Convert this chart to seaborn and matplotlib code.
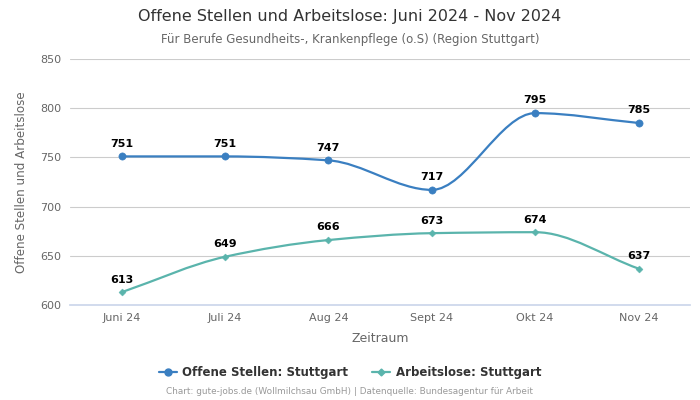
import numpy as np
import pandas as pd
import matplotlib
matplotlib.use('Agg')
import matplotlib.pyplot as plt
import seaborn as sns
from matplotlib.path import Path
from matplotlib.patches import PathPatch
from matplotlib.lines import Line2D

months = ['Juni 24', 'Juli 24', 'Aug 24', 'Sept 24', 'Okt 24', 'Nov 24']
offene_stellen = [751, 751, 747, 717, 795, 785]
arbeitslose = [613, 649, 666, 673, 674, 637]

blue = '#3a7fc1'
teal = '#5ab4ac'

sns.set_theme(style='white')
plt.rcParams['font.family'] = ['DejaVu Sans']

df = pd.DataFrame({
    'Monat': months * 2,
    'pos': list(range(len(months))) * 2,
    'Wert': offene_stellen + arbeitslose,
    'Reihe': ['Offene Stellen: Stuttgart'] * len(months) + ['Arbeitslose: Stuttgart'] * len(months),
})


def monotone_path(xs, ys):
    # Fritsch-Carlson tangents, drawn as cubic bezier segments
    xs = np.asarray(xs, float)
    ys = np.asarray(ys, float)
    h = np.diff(xs)
    d = np.diff(ys) / h
    m = np.zeros(len(xs))
    m[0], m[-1] = d[0], d[-1]
    for i in range(1, len(xs) - 1):
        if d[i - 1] * d[i] <= 0:
            m[i] = 0
        else:
            m[i] = 2 / (1 / d[i - 1] + 1 / d[i])
    verts = [(xs[0], ys[0])]
    codes = [Path.MOVETO]
    for i in range(len(xs) - 1):
        verts += [(xs[i] + h[i] / 3, ys[i] + m[i] * h[i] / 3),
                  (xs[i + 1] - h[i] / 3, ys[i + 1] - m[i + 1] * h[i] / 3),
                  (xs[i + 1], ys[i + 1])]
        codes += [Path.CURVE4] * 3
    return Path(verts, codes)


fig = plt.figure(figsize=(7, 4), dpi=100)
ax = fig.add_axes([0.1, 0.2375, 0.886, 0.615])

series = [('Offene Stellen: Stuttgart', offene_stellen, blue, 'o', 5.2),
          ('Arbeitslose: Stuttgart', arbeitslose, teal, 'D', 3.6)]

for name, vals, color, marker, ms in series:
    x = list(range(len(vals)))
    ax.add_patch(PathPatch(monotone_path(x, vals), facecolor='none',
                           edgecolor=color, lw=1.6, zorder=3))
    sub = df[df['Reihe'] == name]
    sns.scatterplot(data=sub, x='pos', y='Wert', marker=marker, s=ms ** 2,
                    color=color, edgecolor=color, ax=ax, zorder=4, legend=False)
    for xi, v in zip(x, vals):
        ax.annotate(str(v), (xi, v), xytext=(0, 5.5), textcoords='offset points',
                    ha='center', va='bottom', fontsize=8, fontweight='bold',
                    color='black', zorder=5)

ax.set_xlim(-0.5, 5.5)
ax.set_ylim(600, 850)
ax.set_yticks([600, 650, 700, 750, 800, 850])
ax.set_xticks(range(len(months)))
ax.set_xticklabels(months)
ax.grid(axis='y', color='#cccccc', lw=0.8)
ax.set_axisbelow(True)
for s in ['top', 'right', 'left']:
    ax.spines[s].set_visible(False)
ax.spines['bottom'].set_color('#ccd6eb')
ax.tick_params(axis='both', colors='#666666', labelsize=8, length=0, pad=6)
ax.set_xlabel('Zeitraum', fontsize=9, color='#666666', labelpad=6)
ax.set_ylabel('Offene Stellen und Arbeitslose', fontsize=8.6, color='#666666', labelpad=9)

fig.text(0.5, 0.958, 'Offene Stellen und Arbeitslose: Juni 2024 - Nov 2024',
         ha='center', va='center', fontsize=11.5, color='#333333')
fig.text(0.5, 0.902, 'Für Berufe Gesundheits-, Krankenpflege (o.S) (Region Stuttgart)',
         ha='center', va='center', fontsize=8.5, color='#666666')

handles = [Line2D([0], [0], color=blue, marker='o', ms=5, lw=1.6),
           Line2D([0], [0], color=teal, marker='D', ms=3.5, lw=1.6)]
leg = fig.legend(handles, [s[0] for s in series], loc='center', bbox_to_anchor=(0.5, 0.068),
                 ncol=2, frameon=False, fontsize=8.5, handlelength=1.5,
                 columnspacing=2.0, handletextpad=0.5)
for t in leg.get_texts():
    t.set_fontweight('bold')
    t.set_color('#333333')

fig.text(0.5, 0.02, 'Chart: gute-jobs.de (Wollmilchsau GmbH) | Datenquelle: Bundesagentur für Arbeit',
         ha='center', va='center', fontsize=6.4, color='#999999')

fig.savefig('out.png', dpi=100)
